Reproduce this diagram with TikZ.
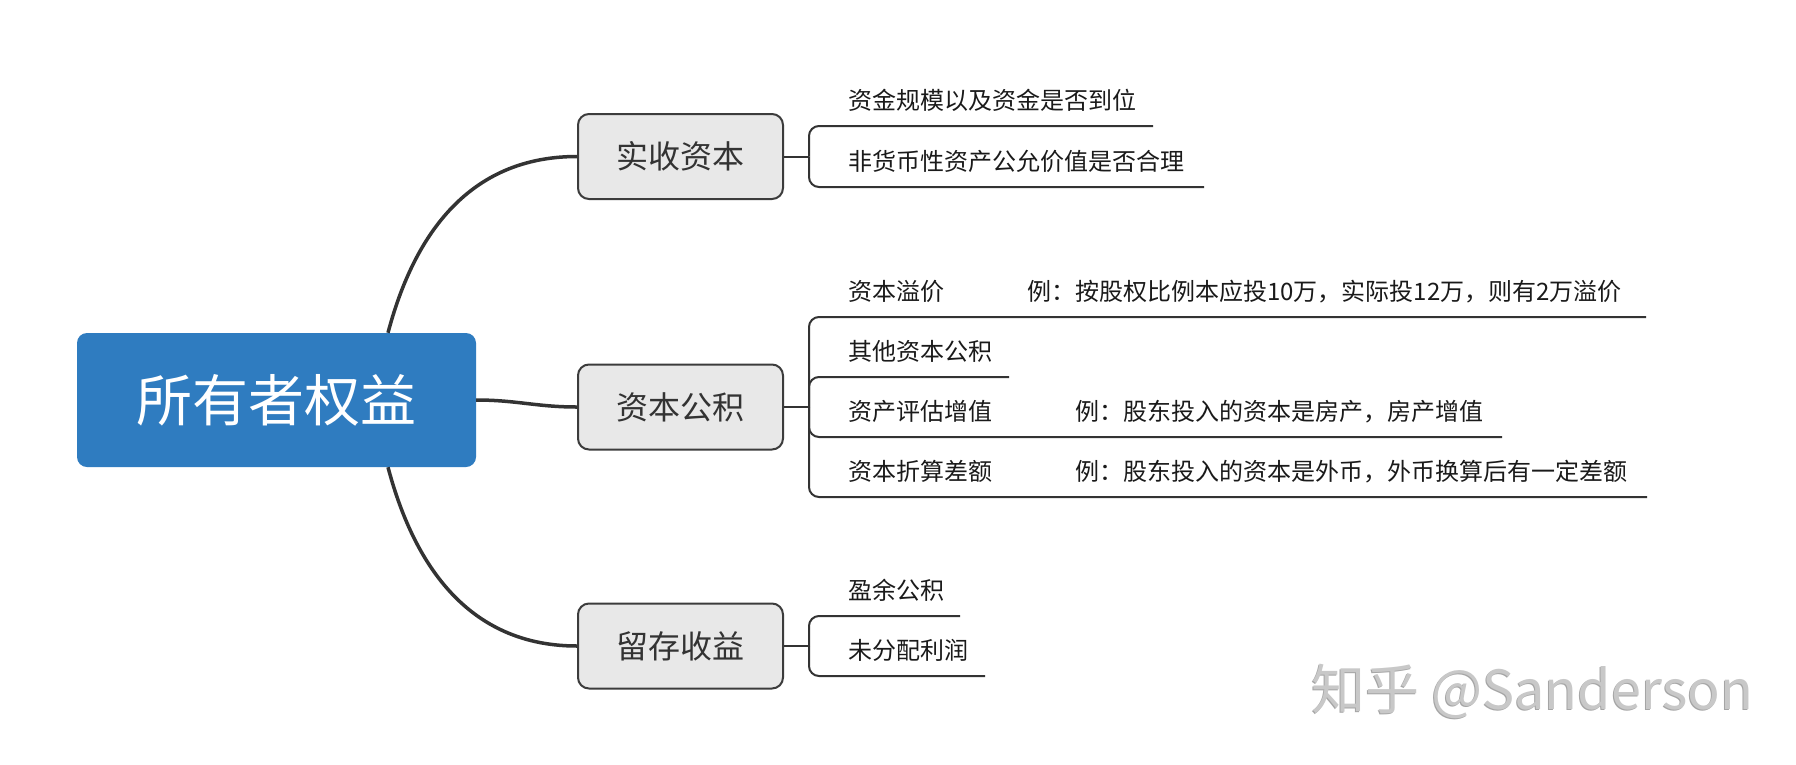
\documentclass[tikz,border=0pt]{standalone}
\usepackage{fontspec}
\newfontfamily\cjk{Noto Sans CJK SC}
\definecolor{mainblue}{RGB}{47,124,192}
\definecolor{boxgrey}{RGB}{232,232,232}
\definecolor{boxborder}{RGB}{60,60,60}
\definecolor{linedark}{RGB}{51,51,51}
\definecolor{textdark}{RGB}{26,26,26}
\definecolor{wmgrey}{RGB}{200,200,200}
\definecolor{wmshadow}{RGB}{165,165,165}
\tikzset{
  mainbox/.style={fill=mainblue, rounded corners=10pt, minimum width=399pt, minimum height=134pt,
    inner sep=0pt, text=white, font=\cjk\fontsize{56}{60}\selectfont},
  subbox/.style={fill=boxgrey, draw=boxborder, line width=2pt, rounded corners=11pt,
    minimum width=205pt, minimum height=85pt, inner sep=0pt, text=linedark,
    font=\cjk\fontsize{32}{36}\selectfont},
  leaf/.style={anchor=west, inner sep=0pt, text height=20pt, text depth=4pt, text=textdark,
    font=\cjk\fontsize{24}{28}\selectfont},
  branch/.style={draw=linedark, line width=2pt, rounded corners=10pt},
  stub/.style={draw=linedark, line width=2pt},
  curve/.style={draw=linedark, line width=3.5pt},
  wmark/.style={anchor=west, inner sep=0pt, font=\cjk\fontsize{54}{58}\selectfont}
}
\begin{document}
\begin{tikzpicture}[x=1pt, y=-1pt]
\useasboundingbox (0,0) rectangle (1796,764);
\fill[white] (0,0) rectangle (1796,764);

% main and sub boxes
\node[mainbox] (main) at (276.5,400) {所有者权益};
\node[subbox] (b1) at (680.5,156.5) {实收资本};
\node[subbox] (b2) at (680.5,407) {资本公积};
\node[subbox] (b3) at (680.5,646) {留存收益};

% curves from main to sub boxes
\draw[curve] ([xshift=111.5pt]main.north) .. controls +(22,-83) and +(-118,0) .. (b1.west);
\draw[curve] (main.east) .. controls +(40,0) and +(-40,0) .. (b2.west);
\draw[curve] ([xshift=111.5pt]main.south) .. controls +(22,83) and +(-118,0) .. (b3.west);

% junctions
\coordinate (j1) at (809,156.5);
\coordinate (j2) at (809,407);
\coordinate (j3) at (809,646);
\draw[stub] (b1.east) -- (j1);
\draw[stub] (b2.east) -- (j2);
\draw[stub] (b3.east) -- (j3);

% line ends
\coordinate (e11) at (1153,126);
\coordinate (e12) at (1204,187);
\coordinate (e21) at (1646,317);
\coordinate (e22) at (1009,377);
\coordinate (e23) at (1502,437);
\coordinate (e24) at (1647,497);
\coordinate (e31) at (960,616);
\coordinate (e32) at (985,676);

\draw[branch] (j1) |- (e11);
\draw[branch] (j1) |- (e12);
\draw[branch] (j2) |- (e21);
\draw[branch] (j2) |- (e22);
\draw[branch] (j2) |- (e23);
\draw[branch] (j2) |- (e24);
\draw[branch] (j3) |- (e31);
\draw[branch] (j3) |- (e32);

% leaf texts
\node[leaf] (t11) at (848,101) {资金规模以及资金是否到位};
\node[leaf] (t12) at (848,162) {非货币性资产公允价值是否合理};
\node[leaf] (t21) at (848,292) {资本溢价};
\node[leaf] (x21) at (1027,292) {例：按股权比例本应投10万，实际投12万，则有2万溢价};
\node[leaf] (t22) at (848,352) {其他资本公积};
\node[leaf] (t23) at (848,412) {资产评估增值};
\node[leaf] (x23) at (1075,412) {例：股东投入的资本是房产，房产增值};
\node[leaf] (t24) at (848,472) {资本折算差额};
\node[leaf] (x24) at (1075,472) {例：股东投入的资本是外币，外币换算后有一定差额};
\node[leaf] (t31) at (848,591) {盈余公积};
\node[leaf] (t32) at (848,651) {未分配利润};

% watermark
\node[wmark, text=wmshadow] (wms) at (1310,692) {知乎 @Sanderson};
\node[wmark, text=wmgrey] (wm) at (1311,691) {知乎 @Sanderson};
\end{tikzpicture}
\end{document}
